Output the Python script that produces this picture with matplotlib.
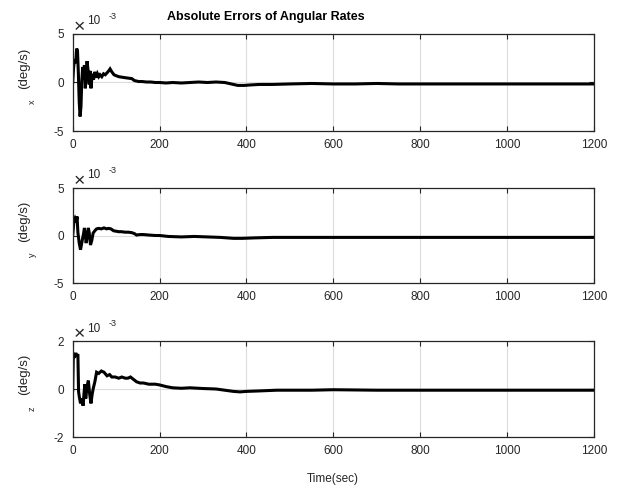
import numpy as np
import matplotlib
matplotlib.use("Agg")
import matplotlib.pyplot as plt

plt.rcParams['font.family'] = ['Liberation Sans', 'DejaVu Sans']
plt.rcParams['axes.unicode_minus'] = False

# values in units of 1e-3 deg/s
t_x = [0, 2, 4, 7, 9, 11, 13, 15, 17, 19, 21, 23, 25, 27, 29, 31, 33, 36, 38, 40,
       42, 45, 48, 51, 54, 57, 60, 63, 67, 71, 75, 79, 83, 86, 90, 95, 100, 106, 113, 120,
       128, 136, 142, 147, 152, 160, 170, 180, 190, 200, 215, 230, 250, 270, 290, 310, 330, 350, 365, 380,
       395, 410, 430, 460, 500, 550, 600, 650, 700, 750, 800, 850, 900, 950, 1000, 1050, 1100, 1150, 1200]
err_x = [0, 1.5, 2.4, 2.0, 3.5, 3.3, 1.0, -2.0, -3.5, -2.5, 0.2, 1.6, 0.5, 1.8, -0.6, 0.8, 2.2, 1.0, -0.2, 1.2,
         -0.6, 0.9, 0.3, 1.1, 0.5, 0.9, 0.6, 0.8, 0.6, 0.9, 0.8, 1.0, 1.2, 1.4, 1.1, 0.8, 0.7, 0.6, 0.55, 0.5,
         0.45, 0.4, 0.2, 0.15, 0.1, 0.1, 0.05, 0.05, 0.0, 0.0, -0.05, 0.0, -0.05, 0.0, 0.05, 0.0, 0.05, 0.0, -0.15, -0.3,
         -0.3, -0.25, -0.2, -0.2, -0.15, -0.1, -0.15, -0.15, -0.1, -0.15, -0.15, -0.15, -0.15, -0.15, -0.15, -0.15, -0.15, -0.15, -0.15]

t_y = [0, 3, 5, 8, 10, 12, 15, 18, 20, 22, 25, 27, 29, 31, 33, 36, 38, 41, 44, 47,
       51, 55, 60, 66, 72, 78, 82, 88, 94, 100, 106, 113, 120, 128, 136, 142, 147, 155, 163, 175,
       190, 200, 220, 250, 280, 310, 340, 370, 390, 420, 460, 500, 600, 700, 800, 900, 1000, 1100, 1200]
err_y = [0, 1.6, 1.8, 1.4, 2.0, 0.3, -0.8, -1.5, -1.0, -0.5, 0.2, 0.8, 0.0, -0.8, -0.2, 0.8, 0.3, -1.0, -0.5, 0.25,
         0.5, 0.7, 0.75, 0.7, 0.8, 0.7, 0.75, 0.7, 0.5, 0.45, 0.4, 0.4, 0.35, 0.35, 0.3, 0.2, 0.05, 0.1, 0.1, 0.05,
         0.0, 0.0, -0.1, -0.15, -0.1, -0.15, -0.2, -0.3, -0.3, -0.25, -0.2, -0.2, -0.2, -0.2, -0.2, -0.2, -0.2, -0.2, -0.2]

t_z = [0, 1.5, 4, 7, 9, 12, 13.5, 15, 18, 21, 24, 26, 28, 30, 33, 36, 39, 42, 45, 47,
       51, 55, 60, 66, 72, 79, 85, 90, 98, 106, 113, 121, 127, 133, 140, 147, 155, 163, 175, 190,
       200, 215, 230, 250, 270, 300, 330, 350, 370, 385, 400, 430, 470, 500, 550, 600, 700, 800, 900, 1000,
       1100, 1200]
err_z = [-0.05, 1.5, 1.3, 1.5, 1.4, 1.4, -0.1, -0.3, -0.6, -0.4, -0.7, -0.2, 0.2, -0.4, 0.1, 0.35, -0.2, -0.6, -0.2, 0.0,
         0.3, 0.7, 0.65, 0.75, 0.7, 0.55, 0.6, 0.5, 0.5, 0.45, 0.5, 0.45, 0.45, 0.5, 0.4, 0.3, 0.25, 0.25, 0.2, 0.2,
         0.17, 0.1, 0.05, 0.03, 0.05, 0.02, 0.0, -0.05, -0.1, -0.12, -0.1, -0.08, -0.05, -0.05, -0.05, -0.03, -0.05, -0.05, -0.05, -0.05,
         -0.05, -0.05]

x_ticks = [0, 200, 400, 600, 800, 1000, 1200]
y_limits = [(-5, 5), (-5, 5), (-2, 2)]
y_ticks = [[-5, 0, 5], [-5, 0, 5], [-2, 0, 2]]
axis_names = ['x', 'y', 'z']
series = [(t_x, err_x), (t_y, err_y), (t_z, err_z)]

fig = plt.figure(figsize=(6.17, 4.9), dpi=100)
W, H = 617, 490
boxes = [(34, 131), (188, 283), (341, 437)]
left_px, right_px = 72.7, 594


def fx(px):
    return px / W


def fy(py):
    return 1 - py / H


for i, ((top, bot), (tt, vv)) in enumerate(zip(boxes, series)):
    ax = fig.add_axes([left_px / W, 1 - bot / H, (right_px - left_px) / W, (bot - top) / H])
    ax.plot(tt, vv, color='black', lw=2.2, solid_joinstyle='miter')
    ax.set_xlim(0, 1200)
    ax.set_ylim(*y_limits[i])
    ax.set_xticks(x_ticks)
    ax.set_yticks(y_ticks[i])
    ax.grid(True, color='#dcdcdc', lw=0.8)
    ax.set_axisbelow(True)
    ax.tick_params(direction='in', length=3.5, width=0.8, top=True, right=True,
                   labelsize=8.5, pad=6, colors='#262626')
    for s in ax.spines.values():
        s.set_color('#262626')
        s.set_linewidth(0.9)
    mid = (top + bot) / 2
    # y label: "(deg/s)" with the component subscript below it
    fig.text(fx(24), fy(mid - 14.5), '(deg/s)', rotation=90, fontsize=9.5,
             ha='center', va='center', color='#262626')
    fig.text(fx(32), fy(mid + 19.5), axis_names[i], rotation=90, fontsize=6.5,
             ha='center', va='center', color='#262626')
    # exponent label
    fig.text(fx(79), fy(top - 6.5), '\u00d7', fontsize=14, ha='center', va='center', color='#262626')
    fig.text(fx(87.5), fy(top - 12.5), '10', fontsize=8.5, ha='left', va='center', color='#262626')
    fig.text(fx(108.5), fy(top - 17.5), '-3', fontsize=6.5, ha='left', va='center', color='#262626')

fig.text(266 / W, 1 - 17 / H, 'Absolute Errors of Angular Rates', fontsize=9, fontweight='bold',
         ha='center', va='center')
fig.text(333 / W, 1 - 479 / H, 'Time(sec)', fontsize=8.5, ha='center', va='center', color='#262626')

fig.savefig('out.png', dpi=100)
